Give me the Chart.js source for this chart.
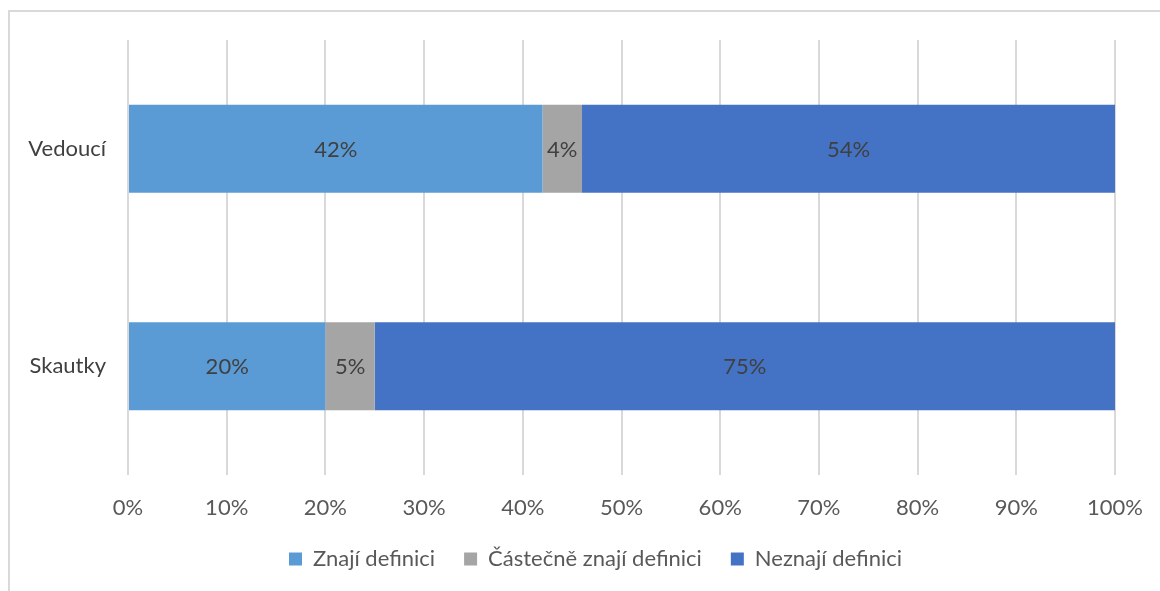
<!DOCTYPE html>
<html><head><meta charset="utf-8">
<script src="https://cdn.jsdelivr.net/npm/chart.js@4/dist/chart.umd.min.js"></script>
<style>
html,body{margin:0;padding:0;background:#fff;overflow:hidden;}
#frame{position:absolute;left:8px;top:10px;width:1170px;height:620px;border:2px solid #d9d9d9;box-sizing:border-box;}
#wrap{position:absolute;left:0;top:0;width:1160px;height:591px;}
</style></head>
<body>
<div id="frame"></div>
<div id="wrap"><canvas id="c" width="1160" height="591"></canvas></div>
<script>
const categories = ["Vedoucí", "Skautky"];
const seriesNames = ["Znají definici", "Částečně znají definici", "Neznají definici"];
const znaji = [42, 20];
const castecne = [4, 5];
const neznaji = [54, 75];
const colors = ["#5B9BD5", "#A5A5A5", "#4472C4"];
const xTicks = [0,10,20,30,40,50,60,70,80,90,100];

const FONT = "Lato, 'Open Sans', sans-serif";

const labelPlugin = {
  id: 'barLabels',
  afterLayout(chart) {
    const lg = chart.legend;
    if (lg) { lg.left += 38; lg.right += 38; lg.top -= 11; lg.bottom -= 11; }
  },
  afterDatasetsDraw(chart) {
    const ctx = chart.ctx;
    ctx.save();
    ctx.font = "22px " + FONT;
    ctx.fillStyle = "#404040";
    ctx.textAlign = "center";
    ctx.textBaseline = "middle";
    chart.data.datasets.forEach((ds, i) => {
      const meta = chart.getDatasetMeta(i);
      meta.data.forEach((bar, j) => {
        const p = bar.getCenterPoint();
        ctx.fillText(ds.data[j] + "%", p.x, p.y + 1);
      });
    });
    ctx.restore();
  }
};

new Chart(document.getElementById('c'), {
  type: 'bar',
  data: {
    labels: categories,
    datasets: [
      {label: seriesNames[0], data: znaji, backgroundColor: colors[0]},
      {label: seriesNames[1], data: castecne, backgroundColor: colors[1]},
      {label: seriesNames[2], data: neznaji, backgroundColor: colors[2]}
    ]
  },
  options: {
    indexAxis: 'y',
    responsive: false,
    animation: false,
    devicePixelRatio: 1,
    datasets: {bar: {barPercentage: 0.405, categoryPercentage: 1.0}},
    layout: {padding: {left: 0, right: 45, top: 40, bottom: 0}},
    scales: {
      x: {
        stacked: true, min: 0, max: 100,
        afterBuildTicks(s){ s.ticks = xTicks.map(v => ({value: v})); },
        afterFit(s){ s.height = 55; s.paddingRight = 0; s.paddingLeft = 0; },
        ticks: {callback: v => v + "%", color: "#595959", font: {family: FONT, size: 22}, padding: 20, maxRotation: 0},
        grid: {color: "#d9d9d9", lineWidth: 2, drawTicks: false},
        border: {display: false}
      },
      y: {
        stacked: true,
        afterFit(s){ s.width = 128; },
        ticks: {color: "#404040", font: {family: FONT, size: 22}, padding: 22},
        grid: {display: false, drawTicks: false},
        border: {display: false}
      }
    },
    plugins: {
      legend: {
        position: 'bottom',
        labels: {color: "#595959", font: {family: FONT, size: 22}, boxWidth: 13, boxHeight: 13, padding: 29, useBorderRadius: false}
      },
      tooltip: {enabled: false}
    }
  },
  plugins: [labelPlugin]
});
</script>
</body></html>
